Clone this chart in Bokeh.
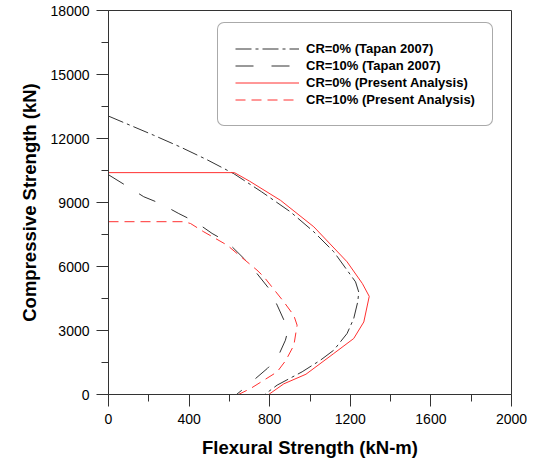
from bokeh.plotting import figure
from bokeh.models import Range1d, FixedTicker, Legend, LegendItem
from bokeh.embed import file_html
from bokeh.resources import INLINE

# CR=0% (Tapan 2007)
cr0_tapan_x = [0, 225, 357, 490, 622, 760, 903, 1019, 1118, 1226, 1242, 1237, 1217, 1184, 1118, 1052, 961, 837, 775]
cr0_tapan_y = [13050, 12150, 11600, 11000, 10350, 9500, 8560, 7625, 6690, 5280, 4800, 4345, 3560, 2860, 2078, 1610, 1064, 440, 0]
# CR=10% (Tapan 2007)
cr10_tapan_x = [0, 84, 175, 258, 349, 432, 514, 589, 672, 730, 796, 837, 870, 895, 878, 837, 788, 672, 635]
cr10_tapan_y = [10300, 9810, 9270, 8950, 8480, 8090, 7550, 7150, 6375, 5750, 4970, 4190, 3500, 3170, 2545, 1690, 1220, 280, 0]
# CR=0% (Present Analysis)
cr0_present_x = [0, 625, 700, 854, 1019, 1184, 1260, 1294, 1267, 1217, 1118, 980, 870, 795]
cr0_present_y = [10400, 10400, 10000, 9100, 7860, 6220, 5200, 4600, 3400, 2625, 1922, 950, 500, 0]
# CR=10% (Present Analysis)
cr10_present_x = [0, 374, 407, 473, 589, 638, 737, 771, 870, 920, 936, 920, 880, 837, 705, 645]
cr10_present_y = [8100, 8100, 8016, 7625, 7000, 6610, 5830, 5517, 4345, 3700, 3250, 2310, 1600, 1060, 280, 0]

x_ticks = [0, 400, 800, 1200, 1600, 2000]
x_minor = [200, 600, 1000, 1400, 1800]
y_ticks = [0, 3000, 6000, 9000, 12000, 15000, 18000]
y_minor = [1500, 4500, 7500, 10500, 13500, 16500]

labels = ["CR=0% (Tapan 2007)", "CR=10% (Tapan 2007)",
          "CR=0% (Present Analysis)", "CR=10% (Present Analysis)"]

FONT = "Liberation Sans"

p = figure(width=527, height=460, output_backend="svg", toolbar_location=None,
           x_range=Range1d(0, 2000), y_range=Range1d(0, 18000),
           min_border_left=108, min_border_right=16, min_border_top=10, min_border_bottom=66)
p.grid.visible = False
p.outline_line_color = "#333333"
p.outline_line_width = 1
p.background_fill_color = "white"
p.border_fill_color = "white"

p.xaxis.ticker = FixedTicker(ticks=x_ticks, minor_ticks=x_minor)
p.yaxis.ticker = FixedTicker(ticks=y_ticks, minor_ticks=y_minor)
for ax in (p.xaxis[0], p.yaxis[0]):
    ax.axis_line_color = "#333333"
    ax.major_tick_line_color = "#333333"
    ax.minor_tick_line_color = "#333333"
    ax.major_tick_in = 0
    ax.major_tick_out = 12
    ax.minor_tick_in = 0
    ax.minor_tick_out = 7
    ax.major_label_text_font = FONT
    ax.major_label_text_font_size = "14px"
    ax.major_label_text_color = "black"
    ax.major_label_standoff = 7
    ax.axis_label_text_font = FONT
    ax.axis_label_text_font_style = "bold"
    ax.axis_label_text_color = "black"
    ax.axis_label_text_font_size = "18.5px"
p.xaxis.axis_label = "Flexural Strength (kN-m)"
p.yaxis.axis_label = "Compressive Strength (kN)"
p.xaxis.axis_label_standoff = 10
p.yaxis.axis_label_standoff = 8

r1 = p.line(cr0_tapan_x, cr0_tapan_y, line_color="#333333", line_width=1, line_dash="16 4 3 4")
r2 = p.line(cr10_tapan_x, cr10_tapan_y, line_color="#333333", line_width=1, line_dash="18 18")
r3 = p.line(cr0_present_x, cr0_present_y, line_color="#ff3030", line_width=1)
r4 = p.line(cr10_present_x, cr10_present_y, line_color="#ff3030", line_width=1, line_dash="10 6")

legend = Legend(items=[LegendItem(label=labels[i], renderers=[r]) for i, r in enumerate([r1, r2, r3, r4])],
                location=(109, 268), margin=0, padding=17, spacing=0,
                glyph_width=64, glyph_height=17, label_height=17, label_standoff=7,
                label_text_font=FONT, label_text_font_style="bold", label_text_font_size="13px",
                label_text_color="black",
                border_line_color="#555555", border_line_width=1.5,
                background_fill_color="white", background_fill_alpha=1)
try:
    legend.border_radius = 7
except Exception:
    pass
p.add_layout(legend, "center")

open("out.html", "w").write(file_html(p, INLINE))
